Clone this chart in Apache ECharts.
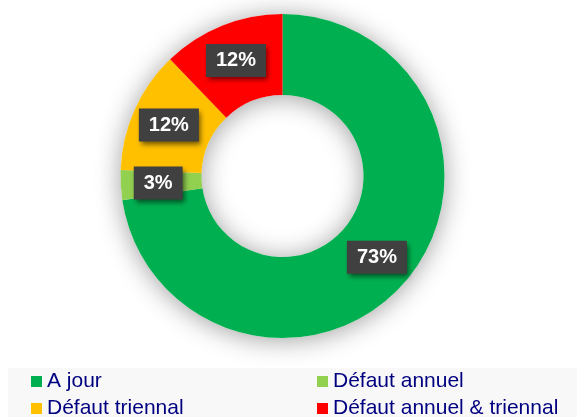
<!DOCTYPE html>
<html>
<head>
<meta charset="utf-8">
<style>
html,body{margin:0;padding:0;background:#ffffff;}
#chart{width:577px;height:417px;}
</style>
<script src="https://cdn.jsdelivr.net/npm/echarts@6/dist/echarts.min.js"></script>
</head>
<body>
<div id="chart"></div>
<script>
var categories = ['A jour', 'Défaut annuel', 'Défaut triennal', 'Défaut annuel & triennal'];
var values = [72.6, 3.0, 12.2, 12.2];
var colors = ['#00B050', '#92D050', '#FFC000', '#FF0000'];
// legend layout: [column, row] for each category
var legendCol = [0, 1, 0, 1];
var legendRow = [0, 0, 1, 1];

var chart = echarts.init(document.getElementById('chart'), null, {renderer: 'canvas'});

var pieData = categories.map(function (c, i) {
  return {name: c, value: values[i], itemStyle: {color: colors[i]}};
});
var shadowData = values.map(function (v) { return {value: v}; });

var colLeft = [31, 317];
var rowTop = [371, 398];

var legends = categories.map(function (c, i) {
  return {
    orient: 'horizontal',
    left: colLeft[legendCol[i]],
    top: rowTop[legendRow[i]],
    padding: 0,
    itemWidth: 11,
    itemHeight: 11,
    icon: 'rect',
    selectedMode: false,
    data: [c],
    textStyle: {
      fontFamily: 'Liberation Sans, Arial, sans-serif',
      fontSize: 21,
      lineHeight: 21,
      color: '#000080'
    }
  };
});

chart.setOption({
  backgroundColor: '#ffffff',
  animation: false,
  graphic: [{
    type: 'rect',
    z: -1,
    shape: {x: 8, y: 368, width: 569, height: 49},
    style: {fill: '#f8f8f8'}
  }],
  legend: legends,
  series: [
    {
      type: 'pie',
      name: 'main',
      z: 3,
      center: [282.5, 176],
      radius: [81, 162],
      startAngle: 90,
      clockwise: true,
      percentPrecision: 0,
      avoidLabelOverlap: false,
      silent: true,
      labelLine: {show: false},
      label: {
        show: true,
        position: 'inside',
        formatter: '{d}%',
        fontFamily: 'Liberation Sans, Arial, sans-serif',
        fontWeight: 'bold',
        fontSize: 20,
        lineHeight: 20,
        color: '#ffffff',
        backgroundColor: '#404040',
        padding: [7, 10, 6, 10],
        shadowColor: 'rgba(0,0,0,0.55)',
        shadowBlur: 5,
        shadowOffsetX: 2,
        shadowOffsetY: 3
      },
      itemStyle: {borderWidth: 0},
      data: pieData
    },
    {
      type: 'pie',
      name: 'shadow',
      z: 1,
      center: [282.5, 176],
      radius: [81, 162],
      startAngle: 90,
      clockwise: true,
      silent: true,
      label: {show: false},
      labelLine: {show: false},
      itemStyle: {
        color: '#ffffff',
        shadowColor: 'rgba(0,0,0,0.38)',
        shadowBlur: 26,
        shadowOffsetY: 2
      },
      data: shadowData
    }
  ]
});
</script>
</body>
</html>
